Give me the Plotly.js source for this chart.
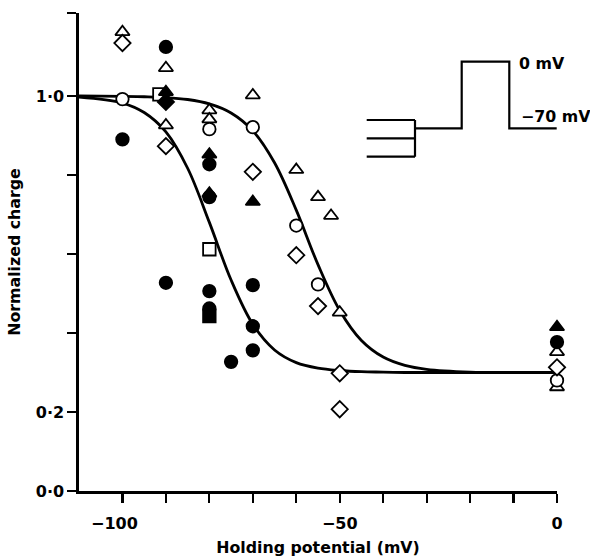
<!DOCTYPE html>
<html><head><meta charset="utf-8">
<script src="https://cdn.plot.ly/plotly-3.0.1.min.js"></script>
<style>html,body{margin:0;padding:0;background:#fff}#chart{width:590px;height:557px}</style>
</head><body><div id="chart"></div>
<script>
// Fitted curves
const curveV      = [-110, -100, -95, -90, -85, -80, -75, -70, -65, -60, -55, -50, -45, -40, -35, -30, -20, -10, 0];
const leftCurveY  = [0.997, 0.982, 0.958, 0.909, 0.817, 0.680, 0.534, 0.422, 0.357, 0.325, 0.311, 0.305, 0.302, 0.301, 0.300, 0.300, 0.300, 0.300, 0.300];
const rightCurveY = [1.000, 0.999, 0.998, 0.996, 0.991, 0.980, 0.957, 0.912, 0.831, 0.711, 0.573, 0.457, 0.381, 0.339, 0.318, 0.308, 0.301, 0.300, 0.300];

// Data points
const openTriV  = [-100, -90, -90, -80, -80, -70, -60, -55, -52, -50, 0, 0];
const openTriY  = [1.162, 1.071, 0.926, 0.964, 0.941, 1.002, 0.813, 0.744, 0.697, 0.452, 0.352, 0.263];
const openCircV = [-100, -80, -70, -60, -55, 0];
const openCircY = [0.992, 0.916, 0.921, 0.672, 0.523, 0.280];
const openDiaV  = [-100, -90, -70, -60, -55, -50, -50, 0];
const openDiaY  = [1.134, 0.873, 0.808, 0.597, 0.468, 0.298, 0.207, 0.313];
const openSqV   = [-91.5, -80];
const openSqY   = [1.004, 0.612];
const fillCircV = [-100, -90, -90, -80, -80, -80, -80, -75, -70, -70, -70, 0];
const fillCircY = [0.890, 1.124, 0.527, 0.827, 0.744, 0.506, 0.462, 0.327, 0.521, 0.417, 0.356, 0.377];
const fillTriV  = [-90, -80, -80, -70, 0];
const fillTriY  = [1.010, 0.852, 0.753, 0.732, 0.415];
const fillDiaV  = [-90];
const fillDiaY  = [0.985];
const fillSqV   = [-80];
const fillSqY   = [0.443];

// Axis ticks
const xTickVals = [-100, -90, -80, -70, -60, -50, -40, -30, -20, -10, 0];
const xTickText = ['\u2212100\u2003', '', '', '', '', '\u221250', '', '', '', '', '0'];
const yTickVals = [0, 0.2, 0.4, 0.6, 0.8, 1.0, 1.21];
const yTickText = ['0\u00b70', '0\u00b72', '', '', '', '1\u00b70', ''];

const FONT = 'DejaVu Sans, Arial, sans-serif';
const M = {l: 79, r: 33, t: 13, b: 66};
const W = 590, H = 557;
const pw = W - M.l - M.r, ph = H - M.t - M.b;
function px(x) { return (x - M.l) / pw; }
function py(y) { return (H - M.b - y) / ph; }

function pts(x, y, symbol, fill, name) {
  return {x: x, y: y, type: 'scatter', mode: 'markers', name: name, cliponaxis: false,
    marker: {symbol: symbol, size: 12.5, color: fill, line: {color: '#000', width: 1.8}}};
}
function curve(y, name) {
  return {x: curveV, y: y, type: 'scatter', mode: 'lines', name: name,
    line: {color: '#000', width: 2.8, shape: 'spline'}};
}

const data = [
  curve(leftCurveY, 'left fit'),
  curve(rightCurveY, 'right fit'),
  pts(openTriV, openTriY, 'triangle-up', '#fff', 'open triangle'),
  pts(openCircV, openCircY, 'circle', '#fff', 'open circle'),
  pts(openDiaV, openDiaY, 'diamond', '#fff', 'open diamond'),
  pts(openSqV, openSqY, 'square', '#fff', 'open square'),
  pts(fillDiaV, fillDiaY, 'diamond', '#000', 'filled diamond'),
  pts(fillTriV, fillTriY, 'triangle-up', '#000', 'filled triangle'),
  pts(fillSqV, fillSqY, 'square', '#000', 'filled square'),
  pts(fillCircV, fillCircY, 'circle', '#000', 'filled circle')
];

// Inset: voltage protocol schematic (pixel positions)
const insetPath = 'M' + px(366.7) + ',' + py(120) + ' L' + px(415) + ',' + py(120) +
  ' M' + px(366.7) + ',' + py(138.3) + ' L' + px(415) + ',' + py(138.3) +
  ' M' + px(366.7) + ',' + py(156.7) + ' L' + px(415) + ',' + py(156.7) +
  ' M' + px(415) + ',' + py(120) + ' L' + px(415) + ',' + py(156.7) +
  ' M' + px(415) + ',' + py(128.3) + ' L' + px(461.7) + ',' + py(128.3) +
  ' L' + px(461.7) + ',' + py(61.7) + ' L' + px(509.3) + ',' + py(61.7) +
  ' L' + px(509.3) + ',' + py(128.3) + ' L' + px(556.7) + ',' + py(128.3);

const TF = {family: FONT, size: 16, color: '#000', weight: 'bold'};
const TT = {family: FONT, size: 15.8, color: '#000', weight: 'bold'};

const layout = {
  width: W, height: H, margin: M,
  paper_bgcolor: '#fff', plot_bgcolor: '#fff',
  showlegend: false,
  font: {family: FONT, color: '#000', size: 16},
  xaxis: {
    range: [-110, 0], showgrid: false, zeroline: false,
    showline: true, linecolor: '#000', linewidth: 2.6,
    ticks: 'outside', ticklen: 9, tickwidth: 2.2, tickcolor: '#000',
    tickmode: 'array', tickvals: xTickVals, ticktext: xTickText,
    tickfont: TF, ticklabelstandoff: 7,
    title: {text: 'Holding potential (mV)', font: TT, standoff: 11}
  },
  yaxis: {
    range: [0, 1.21], showgrid: false, zeroline: false,
    showline: true, linecolor: '#000', linewidth: 2.6,
    ticks: 'outside', ticklen: 9, tickwidth: 2.2, tickcolor: '#000',
    tickmode: 'array', tickvals: yTickVals, ticktext: yTickText,
    tickfont: TF,
    title: {text: 'Normalized charge', font: TT, standoff: 12}
  },
  shapes: [{type: 'path', xref: 'paper', yref: 'paper', path: insetPath,
    line: {color: '#000', width: 2.2}}],
  annotations: [
    {xref: 'paper', yref: 'paper', x: px(517), y: py(63), xanchor: 'left', yanchor: 'middle',
      text: '0 mV', showarrow: false, font: TT},
    {xref: 'paper', yref: 'paper', x: px(519), y: py(116), xanchor: 'left', yanchor: 'middle',
      text: '\u221270 mV', showarrow: false, font: TT}
  ]
};

Plotly.newPlot('chart', data, layout, {displayModeBar: false, staticPlot: true});
</script></body></html>
